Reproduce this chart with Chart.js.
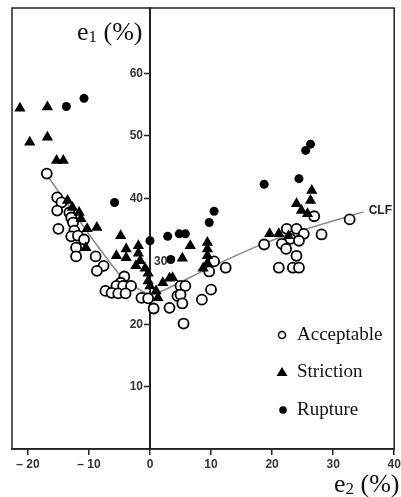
<!DOCTYPE html>
<html>
<head>
<meta charset="utf-8">
<script src="https://cdn.jsdelivr.net/npm/chart.js@4"></script>
<style>
  body { margin: 0; background: #fff; }
  #wrap { width: 401px; height: 497px; position: relative; }
</style>
</head>
<body>
<div id="wrap"><canvas id="flc"></canvas></div>
<script>
// --- data (e2 = minor strain, e1 = major strain, %) ---
const acceptE2 = [-16.9, -15.2, -14.5, -15.2, -15.0, -13.2, -12.9, -12.6, -12.4, -12.9, -11.8, -12.1, -12.1, -10.8,
  -8.9, -7.6, -8.7, -4.2, -4.8, -5.5, -4.4, -3.1, -7.3, -6.3, -5.2, -4.0, -1.4, -0.3, 0.6, 3.2,
  5.0, 5.8, 4.5, 5.0, 5.3, 5.5, 10.5, 12.4, 9.7, 10.0, 8.5,
  18.7, 22.4, 24.0, 25.2, 28.1, 23.0, 21.6, 22.3, 24.4, 24.0, 21.1, 23.4, 24.4, 26.9, 32.7];
const acceptE1 = [43.9, 40.1, 39.3, 38.0, 35.1, 37.7, 36.9, 36.1, 34.8, 33.9, 34.0, 32.1, 30.7, 33.4,
  30.7, 29.2, 28.4, 27.5, 26.5, 26.0, 26.0, 26.0, 25.2, 24.9, 24.8, 24.8, 24.1, 24.0, 22.4, 22.5,
  26.0, 26.0, 24.4, 24.6, 23.2, 20.0, 29.9, 28.9, 28.3, 25.4, 23.8,
  32.6, 35.1, 35.1, 34.3, 34.2, 33.5, 32.7, 31.9, 33.2, 30.8, 28.9, 28.9, 28.9, 37.1, 36.6];

const strictE2 = [-21.3, -16.8, -19.7, -16.8, -15.3, -14.2,
  -13.5, -12.7, -11.6, -11.3, -10.3, -8.7, -10.5,
  -4.8, -5.5, -3.9, -3.9, -1.9, -1.9, -1.6, -2.3,
  -0.8, -0.3, -0.3, 0.0, 1.0, 1.3, 2.1, 3.2, 3.7, 6.6, 5.3,
  9.4, 9.4, 9.4, 9.4, 8.7,
  19.6, 21.1, 22.7, 26.5, 26.3, 24.0, 24.8, 25.8];
const strictE1 = [54.3, 54.5, 48.9, 49.7, 46.0, 46.0,
  39.6, 38.5, 37.7, 36.7, 35.1, 35.3, 32.1,
  34.0, 30.8, 31.9, 30.5, 32.4, 31.2, 30.0, 29.2,
  28.8, 28.0, 26.8, 26.0, 25.2, 24.1, 26.5, 27.2, 27.3, 32.4, 30.4,
  32.9, 31.9, 30.8, 29.6, 28.8,
  34.3, 34.3, 34.0, 41.2, 39.6, 39.1, 38.0, 37.5];

const ruptE2 = [-13.7, -10.8, -5.8, 0.0, 2.9, 4.8, 5.8, 3.4, 9.7, 10.5, 18.7, 24.4, 25.5, 26.3];
const ruptE1 = [54.6, 55.9, 39.3, 33.2, 33.9, 34.3, 34.3, 30.2, 36.1, 37.9, 42.2, 43.1, 47.6, 48.6];

// forming limit curve (CLF)
const clfE2 = [-17, -4.8, 0, 2, 10, 18.5, 26, 35];
const clfE1 = [43.8, 27.6, 24.6, 25.2, 29.0, 32.7, 35.2, 37.8];

const xTicks = [-20, -10, 0, 10, 20, 30, 40];
const yTicks = [10, 20, 30, 40, 50, 60];

const legendItems = ['Acceptable', 'Striction', 'Rupture'];

const pts = (xs, ys) => xs.map((x, i) => ({ x: x, y: ys[i] }));

const tickFont = { family: '"Liberation Sans", Arial', size: 12, weight: 'bold' };

// frame, y ticks on the e2 = 0 line, axis titles, legend
const decor = {
  id: 'decor',
  afterDraw(chart) {
    const { ctx, chartArea: a, scales } = chart;
    ctx.save();
    ctx.strokeStyle = '#222';
    ctx.lineWidth = 1.5;
    ctx.strokeRect(a.left, a.top, a.right - a.left, a.bottom - a.top);

    // y ticks: left of the axis, except "30" which sits right of it in the original
    const x0 = scales.x.getPixelForValue(0);
    ctx.font = 'bold 12px "Liberation Sans", Arial';
    ctx.textBaseline = 'middle';
    ctx.fillStyle = '#333';
    yTicks.forEach(v => {
      const py = Math.round(scales.y.getPixelForValue(v)) + 0.5;
      if (v === 30) {
        ctx.textAlign = 'left';
        ctx.fillText(String(v), x0 + 4, py);
        return;
      }
      ctx.beginPath(); ctx.moveTo(x0 - 6, py); ctx.lineTo(x0, py); ctx.stroke();
      ctx.textAlign = 'right';
      ctx.fillText(String(v), x0 - 7, py);
    });

    // CLF label at the end of the curve
    const last = clfE2.length - 1;
    ctx.textAlign = 'left';
    ctx.fillStyle = '#222';
    ctx.fillText('CLF', scales.x.getPixelForValue(clfE2[last]) + 5, scales.y.getPixelForValue(clfE1[last]) - 1);

    // axis titles e1 (%) / e2 (%)
    const title = (x, y, sub) => {
      ctx.fillStyle = '#111';
      ctx.textBaseline = 'alphabetic';
      ctx.font = '26px "Liberation Serif", serif';
      ctx.fillText('e', x, y);
      let w = ctx.measureText('e').width;
      ctx.font = '17px "Liberation Serif", serif';
      ctx.fillText(sub, x + w, y + 2);
      w += ctx.measureText(sub).width;
      ctx.font = '26px "Liberation Serif", serif';
      ctx.fillText(' (%)', x + w, y);
    };
    title(77, 40, '1');
    title(334, 492, '2');

    // legend
    ctx.font = '19px "Liberation Serif", serif';
    ctx.textBaseline = 'middle';
    const lx = 282, ly = [335, 372, 410];
    ctx.lineWidth = 1.5;
    ctx.strokeStyle = '#000';
    ctx.beginPath(); ctx.arc(lx, ly[0], 3.5, 0, Math.PI * 2); ctx.fillStyle = '#fff'; ctx.fill(); ctx.stroke();
    ctx.fillStyle = '#000';
    ctx.beginPath(); ctx.moveTo(lx, ly[1] - 5); ctx.lineTo(lx + 5.5, ly[1] + 4); ctx.lineTo(lx - 5.5, ly[1] + 4); ctx.closePath(); ctx.fill();
    ctx.beginPath(); ctx.arc(lx + 1, ly[2], 3.8, 0, Math.PI * 2); ctx.fill();
    ctx.fillStyle = '#111';
    legendItems.forEach((t, i) => ctx.fillText(t, 297, ly[i]));
    ctx.restore();
  }
};

new Chart(document.getElementById('flc'), {
  type: 'scatter',
  data: {
    datasets: [
      {
        label: 'CLF', type: 'line', data: pts(clfE2, clfE1), order: 10,
        borderColor: '#8a8a8a', borderWidth: 1.5, pointRadius: 0, tension: 0.25, fill: false
      },
      {
        label: 'Acceptable', data: pts(acceptE2, acceptE1), order: 3,
        pointStyle: 'circle', pointRadius: 5, borderWidth: 1.8, borderColor: '#000', backgroundColor: '#fff'
      },
      {
        label: 'Striction', data: pts(strictE2, strictE1), order: 2,
        pointStyle: 'triangle', pointRadius: 6.5, borderWidth: 0, borderColor: '#000', backgroundColor: '#000'
      },
      {
        label: 'Rupture', data: pts(ruptE2, ruptE1), order: 1,
        pointStyle: 'circle', pointRadius: 4.5, borderWidth: 0, backgroundColor: '#000'
      }
    ]
  },
  options: {
    responsive: true,
    maintainAspectRatio: false,
    animation: false,
    layout: { padding: { left: 12, top: 8, right: 1, bottom: 0 } },
    plugins: { legend: { display: false }, tooltip: { enabled: false } },
    scales: {
      x: {
        type: 'linear', position: 'bottom', min: -22.6, max: 40,
        afterBuildTicks: s => { s.ticks = xTicks.map(v => ({ value: v })); },
        afterFit: s => { s.height = 48; s.paddingLeft = 0; s.paddingRight = 0; },
        grid: { drawOnChartArea: false, drawTicks: true, tickLength: 6, color: '#222', lineWidth: 1.5 },
        border: { display: true, color: '#222', width: 1.5 },
        ticks: {
          font: tickFont, color: '#333', padding: 2, maxRotation: 0, autoSkip: false,
          callback: v => (v < 0 ? '\u2013 ' + Math.abs(v) : String(v))
        }
      },
      y: {
        type: 'linear', position: { x: 0 }, min: 0, max: 70.3,
        afterBuildTicks: s => { s.ticks = yTicks.map(v => ({ value: v })); },
        afterFit: s => { s.paddingTop = 0; s.paddingBottom = 0; },
        grid: { display: false, drawTicks: false },
        border: { display: true, color: '#222', width: 2 },
        ticks: { display: false }
      }
    }
  },
  plugins: [decor]
});
</script>
</body>
</html>
